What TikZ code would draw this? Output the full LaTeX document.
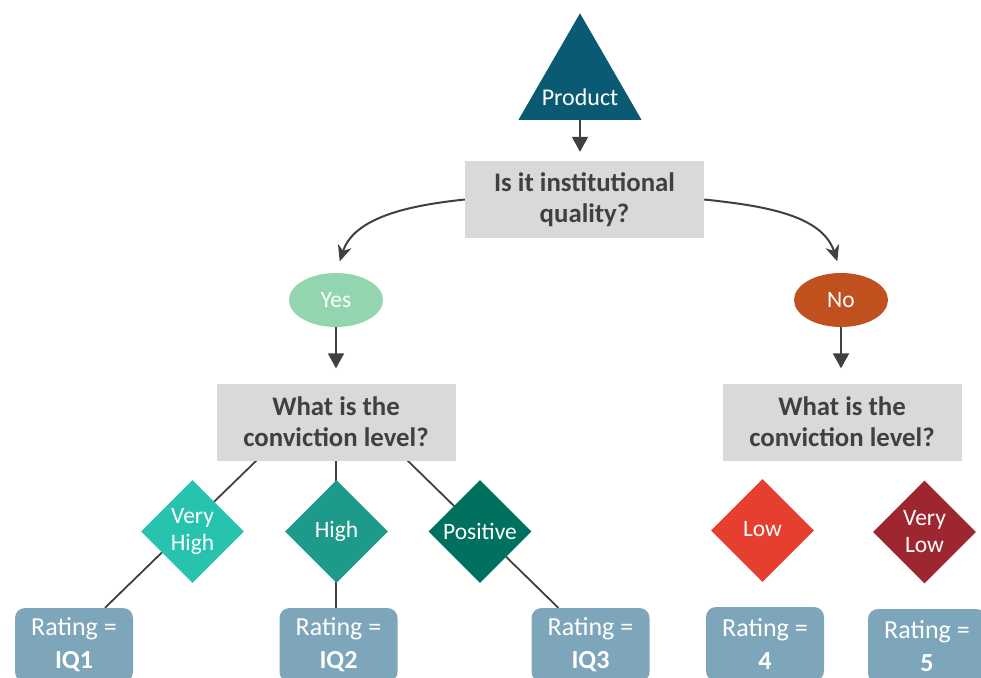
\documentclass[tikz,border=0pt]{standalone}
\usepackage{fontspec}
\setmainfont{Carlito}
\usetikzlibrary{shapes.geometric,arrows.meta,calc}
\pgfdeclarelayer{bg}
\pgfsetlayers{bg,main}
\definecolor{tri}{HTML}{0B5A73}
\definecolor{qgray}{HTML}{D9D9D9}
\definecolor{dtext}{HTML}{404040}
\definecolor{yescol}{HTML}{93D5AE}
\definecolor{nocol}{HTML}{C0511F}
\definecolor{vhcol}{HTML}{28C3AF}
\definecolor{hicol}{HTML}{1E9A8A}
\definecolor{poscol}{HTML}{00705F}
\definecolor{lowcol}{HTML}{E63E2F}
\definecolor{vlcol}{HTML}{9E2630}
\definecolor{ratecol}{HTML}{7EA6BA}
\begin{document}
\begin{tikzpicture}[x=1pt,y=-1pt,
  qbox/.style={rectangle,fill=qgray,minimum width=239pt,minimum height=77pt,inner sep=0pt,
    text=dtext,font=\fontsize{26.8}{31}\selectfont\bfseries,align=center},
  oval/.style={ellipse,minimum width=94pt,minimum height=54pt,inner sep=0pt,text=white,
    font=\fontsize{23.5}{27}\selectfont},
  dia/.style={diamond,aspect=1,minimum width=103pt,minimum height=103pt,inner sep=0pt,
    text=white,align=center,font=\fontsize{23.5}{27}\selectfont},
  rate/.style={rectangle,rounded corners=10pt,fill=ratecol,minimum width=118pt,minimum height=74pt,
    inner sep=0pt,text=white,align=center,font=\fontsize{26}{33}\selectfont},
  conn/.style={draw=dtext,line width=1.8pt},
  darrow/.style={draw=dtext,line width=2pt,-{Triangle[width=16pt,length=15pt]}},
  carrow/.style={draw=dtext,line width=2pt,-{Stealth[width=14pt,length=16pt,inset=5pt]}}
]
\useasboundingbox (0,0) rectangle (981,677);
\clip (0,0) rectangle (981,677);

% Product triangle
\node[regular polygon,regular polygon sides=3,minimum size=142pt,inner sep=0pt,outer sep=0pt,fill=tri] (prod) at (580,84.3) {};
\node[text=white,font=\fontsize{24}{28}\selectfont] (prodlbl) at (580,97) {Product};

% Questions
\node[qbox] (q1) at (584.5,199.5) {Is it institutional\\quality?};
\node[qbox] (q2) at (336,422) {What is the\\conviction level?};
\node[qbox] (q3) at (842,422) {What is the\\conviction level?};

% Yes / No
\node[oval,fill=yescol] (yes) at (336,300) {Yes};
\node[oval,fill=nocol] (no) at (841,300) {No};

% Diamonds
\node[dia,fill=vhcol] (vh) at (192.5,531.5) {Very\\High};
\node[dia,fill=hicol] (hi) at (336.5,531.5) {\raisebox{3pt}{High}};
\node[dia,fill=poscol] (pos) at (480,531.5) {Positive};
\node[dia,fill=lowcol] (low) at (762.5,530.5) {\raisebox{4pt}{Low}};
\node[dia,fill=vlcol] (vl) at (924.5,532) {Very\\Low};

% Ratings
\node[rate] (ra) at (74,645) {Rating =\\\textbf{IQ1}};
\node[rate] (rb) at (338.5,645) {Rating =\\\textbf{IQ2}};
\node[rate] (rc) at (590.5,645) {Rating =\\\textbf{IQ3}};
\node[rate] (rd) at (765,644) {Rating =\\\textbf{4}};
\node[rate] (re) at (927,646) {Rating =\\\textbf{5}};

% Arrows
\draw[darrow,shorten >=9pt] (prod.side 2) -- (prod.side 2 |- q1.north);
\draw[darrow,shorten >=15pt] (yes.south) -- (yes.south |- q2.north);
\draw[darrow,shorten >=15pt] (no.south) -- (no.south |- q3.north);
\draw[carrow,shorten >=12pt] (q1.west) to[out=186,in=72] (yes.north);
\draw[carrow,shorten >=12pt] (q1.east) to[out=-6,in=108] (no.north);

% Connectors behind diamonds
\begin{pgfonlayer}{bg}
\draw[conn] ($(q2.south west)+(40,0)$) -- ($(ra.north)+(31,0)$);
\draw[conn] (q2.south) -- (q2.south |- rb.north);
\draw[conn] ($(q2.south east)+(-48,0)$) -- ($(rc.north west)+(27,0)$);
\draw[conn] ($(q3.south west)+(39,0)$) -- ($(q3.south west)+(39,0)$ |- rd.north);
\draw[conn] ($(q3.south east)+(-37,0)$) -- ($(q3.south east)+(-37,0)$ |- re.north);
\end{pgfonlayer}
\end{tikzpicture}
\end{document}
